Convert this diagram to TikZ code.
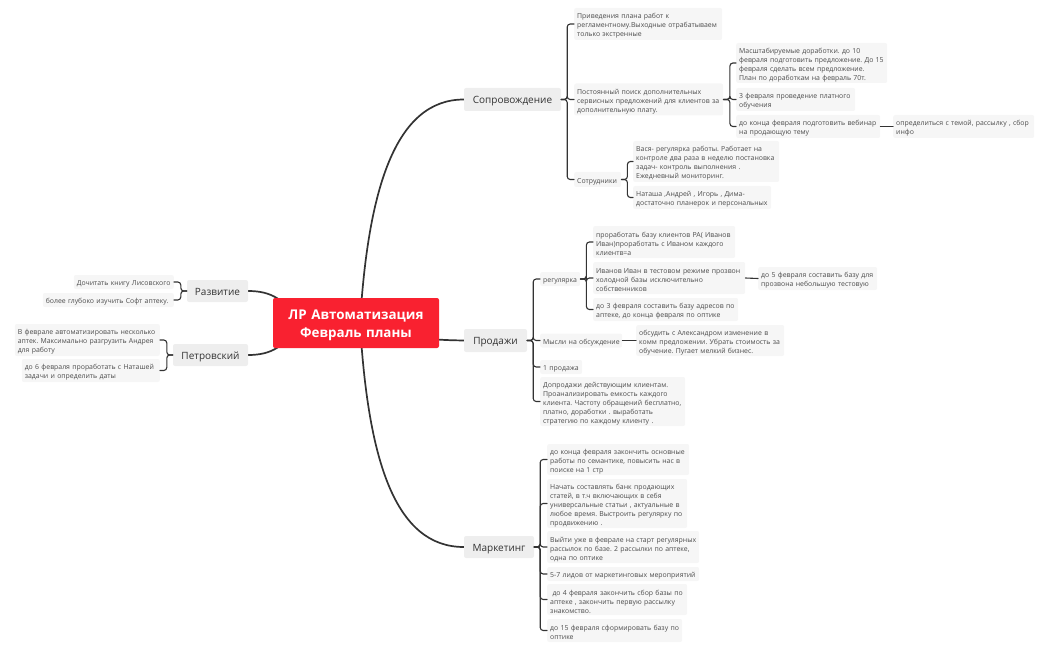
\documentclass[tikz,border=0pt]{standalone}
\usepackage{fontspec}
\setmainfont{Open Sans}
\usetikzlibrary{backgrounds}
\definecolor{leafgray}{HTML}{F6F6F6}
\definecolor{maingray}{HTML}{EEEEEE}
\definecolor{rootred}{HTML}{F92130}
\definecolor{inkdark}{HTML}{333333}
\definecolor{inkleaf}{HTML}{4D4D4D}
\begin{document}
\frenchspacing
\begin{tikzpicture}[x=1pt, y=-1pt, line join=round, line cap=round,
	leaf/.style={fill=leafgray, rounded corners=2pt, anchor=west, align=left, inner xsep=3pt, inner ysep=0pt, text=inkleaf, font=\fontsize{6.9}{9}\selectfont, execute at begin node={\rule{0pt}{9.5pt}}},
	topic/.style={fill=maingray, rounded corners=2pt, anchor=center, align=center, inner sep=0pt, text=inkdark, text height=10.5pt, text depth=2.5pt, font=\fontsize{10}{11}\selectfont},
	trunk/.style={draw=inkdark, line width=1.7pt},
	twig/.style={draw=inkdark, line width=1.1pt, rounded corners=3pt}]
	\useasboundingbox (0,0) rectangle (1050,650);
	\node[fill=rootred, rounded corners=2pt, align=center, inner sep=0pt, text width=166pt, minimum height=50pt, text=white, font=\fontsize{13.4}{18}\selectfont\bfseries, execute at begin node={\rule{0pt}{14pt}}] (root) at (356,323) {ЛР Автоматизация\ \\ Февраль планы};
	\coordinate (hub) at (360,323);
	\coordinate (hubl) at (300,323);
	% topics
	\node[topic, minimum width=97pt, minimum height=23pt] (sopr) at (512.5,99.5) {Сопровождение};
	\node[topic, minimum width=63pt, minimum height=23pt] (prod) at (495.5,340.5) {Продажи};
	\node[topic, minimum width=70pt, minimum height=22pt] (mark) at (499,547) {Маркетинг};
	\node[topic, minimum width=61pt, minimum height=22pt] (razv) at (217.5,291) {Развитие};
	\node[topic, minimum width=75pt, minimum height=22pt] (petr) at (210.5,355) {Петровский};
	% support
	\node[leaf, text width=142pt, minimum height=32pt] (plan) at (574,24) {Приведения плана работ к\\ регламентному.Выходные отрабатываем\\ только экстренные};
	\node[leaf, text width=143pt, minimum height=32pt] (poisk) at (574,99.5) {Постоянный поиск дополнительных\\ сервисных предложений для клиентов за\\ дополнительную плату.};
	\node[leaf, text width=41pt, minimum height=15pt] (sotr) at (574,179.5) {Сотрудники};
	\node[leaf, text width=145pt, minimum height=40pt] (masht) at (736,63) {Масштабируемые доработки. до 10\\ февраля подготовить предложение. До 15\\ февраля сделать всем предложение.\\ План по доработкам на февраль 70т.};
	\node[leaf, text width=113pt, minimum height=23pt] (obuch) at (736,99.5) {3 февраля проведение платного\\ обучения};
	\node[leaf, text width=138pt, minimum height=23pt] (vebin) at (736,126.5) {до конца февраля подготовить вебинар\\ на продающую тему};
	\node[leaf, text width=135pt, minimum height=23pt] (tema) at (893,126.5) {определиться с темой, рассылку , сбор\\ инфо};
	\node[leaf, text width=140pt, minimum height=41pt] (vasya) at (633,161.5) {Вася- регулярка работы. Работает на\\ контроле два раза в неделю постановка\\ задач- контроль выполнения .\\ Ежедневный мониторинг.};
	\node[leaf, text width=132pt, minimum height=23pt] (natasha) at (633,197.5) {Наташа ,Андрей , Игорь , Дима-\\ достаточно планерок и персональных};
	% sales
	\node[leaf, text width=34pt, minimum height=14pt] (regul) at (540,279) {регулярка};
	\node[leaf, text width=76pt, minimum height=14pt] (mysli) at (540,340.5) {Мысли~на~обсуждение};
	\node[leaf, text width=36pt, minimum height=14pt] (odna) at (540,367) {1~продажа};
	\node[leaf, text width=139pt, minimum height=49pt] (dopr) at (540,401.5) {Допродажи действующим клиентам.\\ Проанализировать емкость  каждого\\ клиента. Частоту обращений бесплатно,\\ платно,  доработки . выработать\\ стратегию по каждому клиенту  .};
	\node[leaf, text width=136pt, minimum height=32pt] (baza) at (593,242) {проработать базу клиентов РА( Иванов\\ Иван)проработать с Иваном каждого\\ клиентв=а};
	\node[leaf, text width=146pt, minimum height=32pt] (ivan) at (593,278) {Иванов Иван в тестовом режиме прозвон\\ холодной базы исключительно\\ собственников};
	\node[leaf, text width=139pt, minimum height=23pt] (adres) at (593,309.5) {до 3 февраля составить базу адресов по\\ аптеке, до конца февраля по оптике};
	\node[leaf, text width=113pt, minimum height=23pt] (testbaza) at (758,278.5) {до 5 февраля составить базу для\\ прозвона небольшую тестовую};
	\node[leaf, text width=142pt, minimum height=31pt] (obsud) at (636,340.5) {обсудить с Александром изменение в\\ комм предложении. Убрать стоимость за\\ обучение. Пугает мелкий бизнес.};
	% marketing
	\node[leaf, text width=136pt, minimum height=31pt] (sem) at (547,459.5) {до конца февраля закончить основные\\ работы по семантике, повысить нас в\\ поиске на 1 стр};
	\node[leaf, text width=134pt, minimum height=49pt] (bank) at (547,503.5) {Начать составлять банк продающих\\ статей, в т.ч включающих в себя\\ универсальные статьи , актуальные в\\ любое время. Выстроить регулярку по\\ продвижению .};
	\node[leaf, text width=146pt, minimum height=32pt] (rass) at (547,547) {Выйти уже в феврале на старт регулярных\\ рассылок по базе. 2 рассылки по аптеке,\\ одна по оптике};
	\node[leaf, text width=146pt, minimum height=14pt] (lidy) at (547,574) {5-7 лидов от маркетинговых мероприятий};
	\node[leaf, text width=134pt, minimum height=31pt] (sbor) at (547,599.5) {\ до 4 февраля закончить сбор базы по\\ аптеке , закончить первую рассылку\\ знакомство.};
	\node[leaf, text width=129pt, minimum height=23pt] (optika) at (547,630.5) {до 15 февраля сформировать базу по\\ оптике};
	% left side
	\node[leaf, anchor=east, text width=94pt, minimum height=14pt] (kniga) at (174,282) {Дочитать книгу Лисовского};
	\node[leaf, anchor=east, text width=125pt, minimum height=14pt] (soft) at (174,300) {более глубоко изучить Софт аптеку.};
	\node[leaf, anchor=east, text width=139pt, minimum height=32pt] (avto) at (160,340) {В феврале автоматизировать несколько\\ аптек. Максимально разгрузить Андрея\\ для работу};
	\node[leaf, anchor=east, text width=132pt, minimum height=23pt] (zadachi) at (160,370.5) {до 6 февраля проработать с Наташей\\ задачи и определить даты};
	\begin{scope}[on background layer]
		\draw[trunk] (hub) .. controls (368,190) and (395,99.5) .. (sopr.west);
		\draw[trunk] (hub) .. controls (368,460) and (395,547) .. (mark.west);
		\draw[trunk] (hub) .. controls (410,340) and (440,340) .. (prod.west);
		\draw[trunk] (razv.east) .. controls (272,291) and (285,300) .. (hubl);
		\draw[trunk] (petr.east) .. controls (272,355) and (285,346) .. (hubl);
	\end{scope}
	\foreach \kid in {plan,poisk,sotr}
		\draw[twig] (sopr.east) -- +(6,0) |- (\kid.west);
	\foreach \kid in {masht,obuch,vebin}
		\draw[twig] (poisk.east) -- +(6.5,0) |- (\kid.west);
	\foreach \kid in {vasya,natasha}
		\draw[twig] (sotr.east) -- +(6,0) |- (\kid.west);
	\draw[twig] (vebin.east) -- (tema.west);
	\foreach \kid in {regul,mysli,odna,dopr}
		\draw[twig] (prod.east) -- +(6,0) |- (\kid.west);
	\foreach \kid in {baza,ivan,adres}
		\draw[twig] (regul.east) -- +(6,0) |- (\kid.west);
	\draw[twig] (ivan.east) -- (testbaza.west);
	\draw[twig] (mysli.east) -- (obsud.west);
	\foreach \kid in {sem,bank,rass,lidy,sbor,optika}
		\draw[twig] (mark.east) -- +(6,0) |- (\kid.west);
	\foreach \kid in {kniga,soft}
		\draw[twig] (razv.west) -- +(-6,0) |- (\kid.east);
	\foreach \kid in {avto,zadachi}
		\draw[twig] (petr.west) -- +(-6,0) |- (\kid.east);
\end{tikzpicture}
\end{document}
